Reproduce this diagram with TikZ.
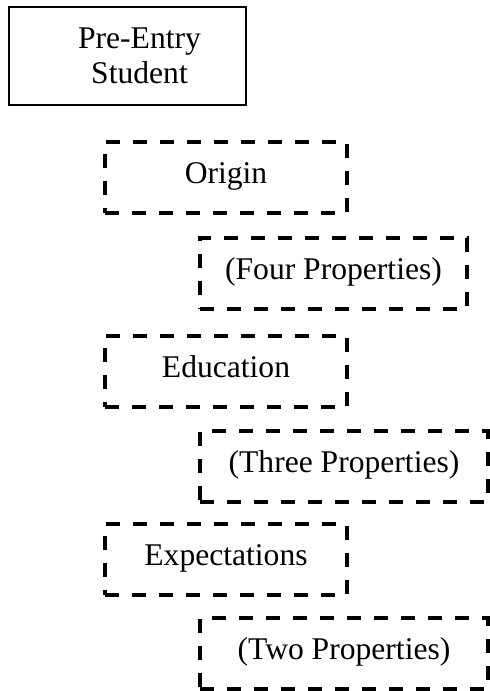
\documentclass[tikz,border=0pt]{standalone}
\usepackage{fontspec}
\setmainfont{Liberation Serif}
\begin{document}
\begin{tikzpicture}[x=1pt,y=-1pt,
  every node/.style={font=\fontsize{31.6}{35}\selectfont, inner sep=0pt},
  solidbox/.style={draw, line width=1.6pt, minimum width=237pt, minimum height=98pt, align=center},
  dbox/.style={draw, line width=4pt, dash pattern=on 14pt off 13pt,
    minimum height=71pt, text height=22pt, text depth=10pt},
  leftbox/.style={dbox, minimum width=242pt},
  propbox/.style={dbox, minimum width=288pt}]
  \useasboundingbox (0,0) rectangle (490,691);

  % heading box
  \node[solidbox] (pre) at (127.5,56)
    {\hspace*{24pt}Pre-Entry\\\hspace*{24pt}Student};

  % categories and their property counts
  \node[leftbox] (origin) at (226,177) {Origin};
  \node[dbox, minimum width=267pt] (four) at (333.5,273.5) {(Four Properties)};
  \node[leftbox] (edu) at (226,371) {Education};
  \node[propbox] (three) at (344,466) {(Three Properties)};
  \node[leftbox] (expect) at (226,559) {Expectations};
  \node[propbox] (two) at (344,653) {(Two Properties)};
\end{tikzpicture}
\end{document}
